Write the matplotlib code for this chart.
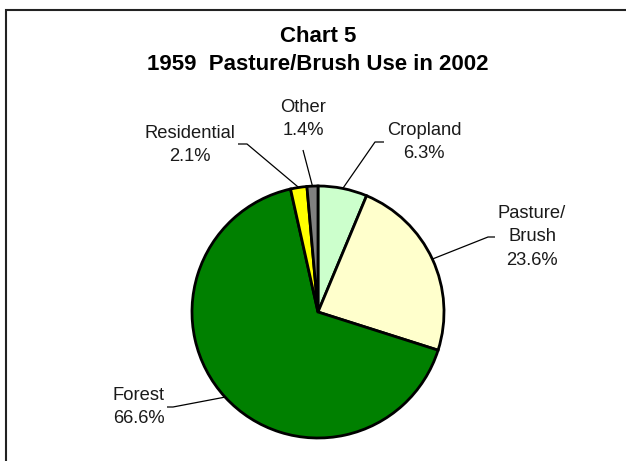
import matplotlib
matplotlib.use('Agg')
import numpy as np
import matplotlib.pyplot as plt
from matplotlib.patches import Rectangle

plt.rcParams['font.family'] = ['Liberation Sans', 'DejaVu Sans']

# data
categories = ['Cropland', 'Pasture/\nBrush', 'Forest', 'Residential', 'Other']
shares = [6.3, 23.6, 66.6, 2.1, 1.4]
colors = ['#CCFFCC', '#FFFFCC', '#008000', '#FFFF00', '#808080']

W, H = 626, 461
fig = plt.figure(figsize=(W / 100, H / 100), dpi=100)
ax = fig.add_axes([0, 0, 1, 1])

cx, cy, r = 318, H - 312, 126
wedges, _ = ax.pie(shares, colors=colors, startangle=90, counterclock=False,
                   center=(cx, cy), radius=r,
                   wedgeprops=dict(edgecolor='black', linewidth=2))
ax.set_xlim(0, W)
ax.set_ylim(0, H)
ax.set_aspect('equal')
ax.axis('off')

# label anchor (text centre) and leader elbow, in pixel coords (y from top)
label_pos = [(424, 142), (532, 237), (139, 407), (190, 145), (303, 119)]
elbows = [[(375, 142), (384, 142)],
          [(488, 237), (495, 237)],
          [(173, 407), (167, 407)],
          [(247, 144), (238, 144)],
          [(303, 150)]]

for w, cat, val, (tx, ty), elb in zip(wedges, categories, shares, label_pos, elbows):
    mid = np.deg2rad((w.theta1 + w.theta2) / 2)
    ex, ey = cx + r * np.cos(mid), cy + r * np.sin(mid)
    xs = [ex] + [p[0] for p in elb]
    ys = [ey] + [H - p[1] for p in elb]
    ax.plot(xs, ys, color='black', lw=0.9, solid_capstyle='butt')
    ax.text(tx, H - ty, f'{cat}\n{val:.1f}%', ha='center', va='center',
            fontsize=13.2, color='#1a1a1a', linespacing=1.5)

fig.text(318 / W, 1 - 37 / H, 'Chart 5', ha='center', va='center',
         fontsize=16, fontweight='bold')
fig.text(318 / W, 1 - 64 / H, '1959  Pasture/Brush Use in 2002', ha='center',
         va='center', fontsize=16, fontweight='bold')

fig.patches.append(Rectangle((6 / W, -0.1), 1.2, 1 - 10 / H + 0.1,
                             transform=fig.transFigure, fill=False,
                             edgecolor='#222222', linewidth=1.5))

fig.savefig('out.png', dpi=100)
